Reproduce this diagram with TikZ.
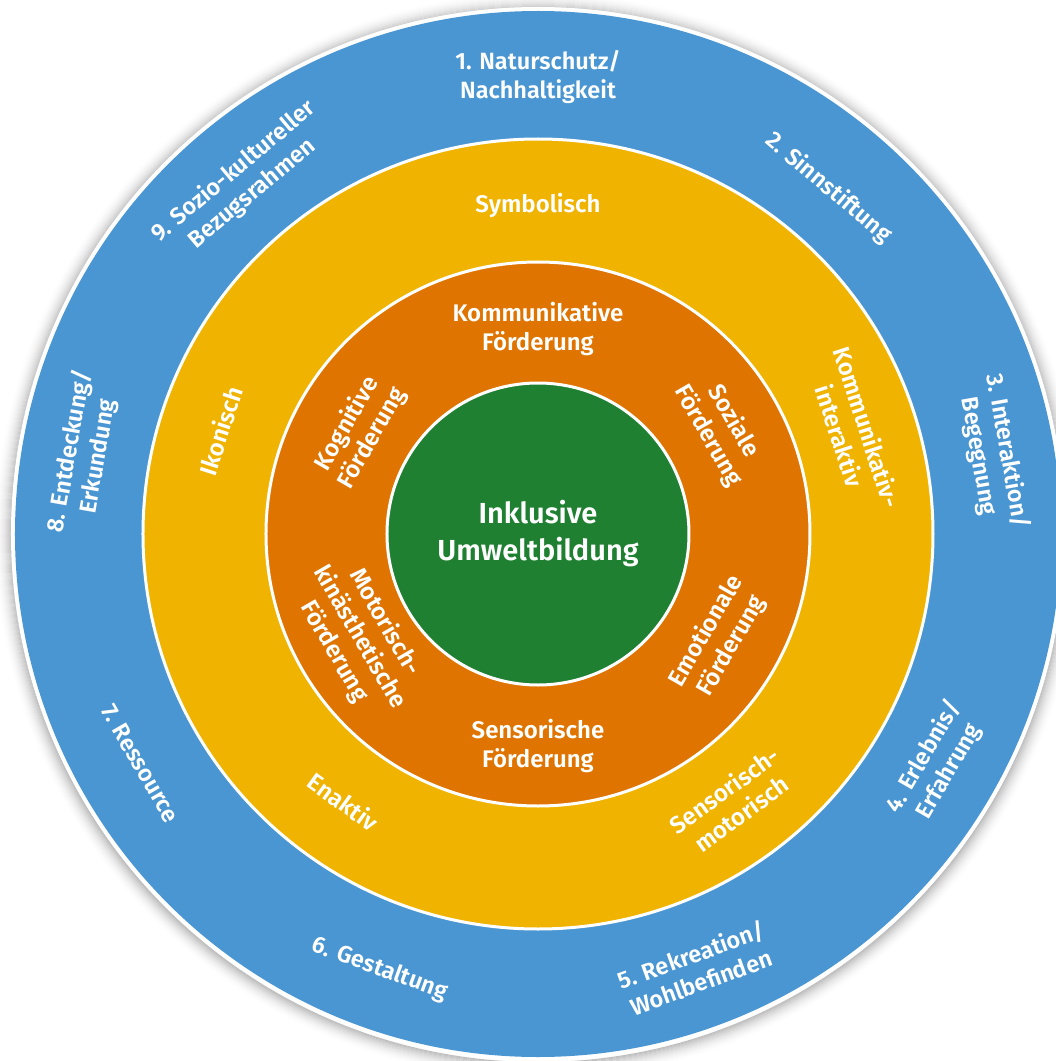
\documentclass[tikz,border=0pt]{standalone}
\usepackage{fontspec}
\setmainfont{Fira Sans}[UprightFont={* SemiBold}, BoldFont={* Bold}]
\definecolor{ringblue}{RGB}{74,150,210}
\definecolor{ringyellow}{RGB}{239,179,0}
\definecolor{ringorange}{RGB}{223,117,0}
\definecolor{ringgreen}{RGB}{31,128,50}
\tikzset{
  sep/.style={draw=white, line width=3pt},
  outerlbl/.style={text=white, align=center, inner sep=0pt, font=\fontsize{23.5}{29}\selectfont},
  midlbl/.style={text=white, align=center, inner sep=0pt, font=\fontsize{24}{29}\selectfont},
  innerlbl/.style={text=white, align=center, inner sep=0pt, font=\fontsize{24}{29}\selectfont},
  corelbl/.style={text=white, align=center, inner sep=0pt, font=\fontsize{29}{37}\selectfont},
}
\begin{document}
\begin{tikzpicture}
  \clip (-538pt,-527pt) rectangle (518pt,534pt);
  \fill[white] (-538pt,-527pt) rectangle (518pt,534pt);

  % soft shadow around the outer disc
  \foreach \i in {1,...,18}{
    \pgfmathsetmacro\op{0.26*(1-\i/19)^2}
    \fill[black, opacity=\op, even odd rule]
      (0pt,-2pt) circle ({526pt+(\i-1)*1pt}) (0pt,-2pt) circle ({526pt+\i*1pt});
  }

  % rings from outside in
  \fill[white] (0,0) circle (527pt);
  \fill[ringblue] (0,0) circle (523pt);
  \fill[ringyellow, sep] (0,0) circle (395pt);
  \fill[ringorange, sep] (0,0) circle (272pt);
  \fill[ringgreen, sep] (0,0) circle (151pt);

  % centre
  \node[corelbl] (core) at (0,0) {Inklusive\\Umweltbildung};

  % inner ring
  \node[innerlbl] (kom) at (90:205pt) {Kommunikative\\Förderung};
  \node[innerlbl, rotate=-60] (soz) at (30:211pt) {Soziale\\Förderung};
  \node[innerlbl, rotate=60] (emo) at (-30:209pt) {Emotionale\\Förderung};
  \node[innerlbl] (sen) at (-90:212pt) {Sensorische\\Förderung};
  \node[innerlbl, rotate=-60] (mot) at (-150:206pt) {Motorisch-\\kinästhetische\\Förderung};
  \node[innerlbl, rotate=60] (kog) at (150:206pt) {Kognitive\\Förderung};

  % middle ring
  \node[midlbl] (sym) at (90:328pt) {Symbolisch};
  \node[midlbl, rotate=-72] (kin) at (18:332pt) {Kommunikativ-\\interaktiv};
  \node[midlbl, rotate=36] (smo) at (-54:331pt) {Sensorisch-\\motorisch};
  \node[midlbl, rotate=-36] (ena) at (-126:331pt) {Enaktiv};
  \node[midlbl, rotate=72] (iko) at (162:334pt) {Ikonisch};

  % outer ring
  \node[outerlbl] (o1) at (90:457pt) {1. Naturschutz/\\Nachhaltigkeit};
  \node[outerlbl, rotate=-40] (o2) at (50:452pt) {2. Sinnstiftung};
  \node[outerlbl, rotate=-80] (o3) at (10:462pt) {3. Interaktion/\\Begegnung};
  \node[outerlbl, rotate=60] (o4) at (-30:460pt) {4. Erlebnis/\\Erfahrung};
  \node[outerlbl, rotate=20] (o5) at (-70:462pt) {5. Rekreation/\\Wohlbefinden};
  \node[outerlbl, rotate=-20] (o6) at (-110:463pt) {6. Gestaltung};
  \node[outerlbl, rotate=-60] (o7) at (-150:459pt) {7. Ressource};
  \node[outerlbl, rotate=80] (o8) at (170:461pt) {8. Entdeckung/\\Erkundung};
  \node[outerlbl, rotate=40] (o9) at (130:459pt) {9. Sozio-kultureller\\Bezugsrahmen};
\end{tikzpicture}
\end{document}
